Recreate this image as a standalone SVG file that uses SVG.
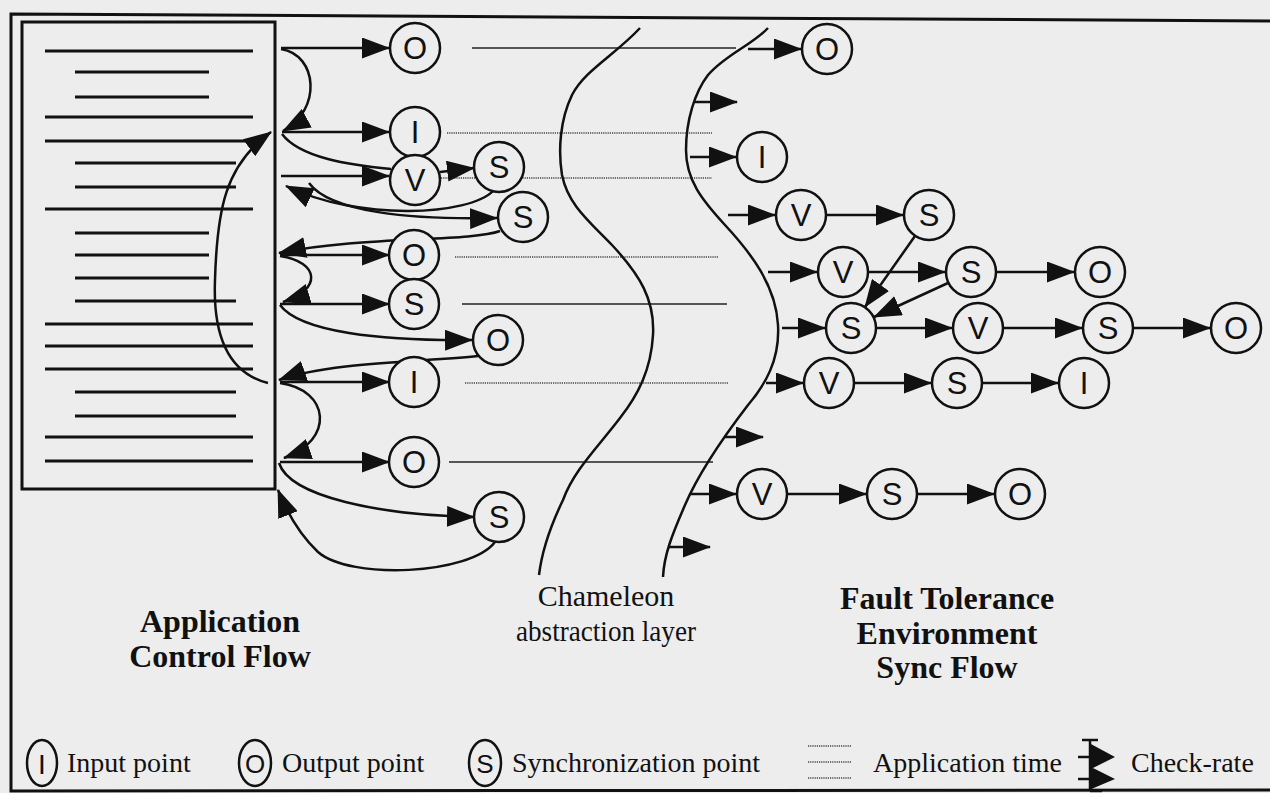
<svg xmlns="http://www.w3.org/2000/svg" width="1270" height="793" viewBox="0 0 1270 793">
<defs>
<style>
.bg{fill:#ededed}
.frame{fill:none;stroke:#111;stroke-width:3}
.tl{stroke:#111;stroke-width:3}
.node circle,.node ellipse{fill:#ededed;stroke:#111;stroke-width:2.5}
.node text{font-family:"Liberation Sans",Arial,sans-serif;font-size:31px;text-anchor:middle;fill:#111}
.c{fill:none;stroke:#111;stroke-width:2.5}
.a{marker-end:url(#ah)}
.dot{stroke:#444;stroke-width:1.6;stroke-dasharray:1.2 1}
.sol{stroke:#222;stroke-width:1.7}
.lbl{font-family:"Liberation Serif","Times New Roman",serif;font-size:28px;fill:#111}
.b{font-weight:bold;font-size:32px;text-anchor:middle}
.m{text-anchor:middle;font-size:30px}
</style>
<marker id="ah" markerWidth="28" markerHeight="21" refX="27" refY="10.5" orient="auto" markerUnits="userSpaceOnUse">
<path d="M0,0 L28,10.5 L0,21 z" fill="#111"/>
</marker>
</defs>
<rect class="bg" x="0" y="0" width="1270" height="793"/>
<path class="frame" d="M1270,21 L11,14 L11,791 L1270,790"/>

<g id="app-box">
<rect class="frame" x="22" y="22" width="253" height="467"/>
<path class="tl" d="M45,51H253 M75,72H209 M75,97H209 M45,117H253 M45,141H250 M75,163H236 M75,187H236 M45,209H253 M75,233H209 M75,255H209 M75,278H209 M75,301H236 M45,324H253 M45,346H253 M45,369H253 M75,392H236 M75,416H236 M45,437H253 M45,461H253"/>
</g>

<g id="time-lines">
<path class="sol" d="M472,48H736"/>
<path class="dot" d="M447,133H712"/>
<path class="dot" d="M441,178H712"/>
<path class="dot" d="M455,257H718"/>
<path class="sol" d="M462,304H727"/>
<path class="dot" d="M465,383H728"/>
<path class="sol" d="M449,462H713"/>
</g>

<g id="layers">
<path class="c" d="M640,28 C615,55 585,70 572,95 C560,120 558,150 562,175 C568,205 590,222 612,245 C640,275 655,300 653,335 C651,370 638,395 620,418 C598,447 574,470 563,500 C550,527 542,550 539,575"/>
<path class="c" d="M768,28 C752,45 725,55 708,75 C695,92 686,120 686,150 C686,180 702,200 725,225 C750,252 776,285 778,325 C780,360 765,385 748,405 C725,435 700,470 685,505 C672,535 664,555 663,577"/>
</g>

<g id="connectors">
<path class="c a" d="M268,383 C225,372 213,330 215,280 C217,210 225,165 271,132"/>
<path class="c a" d="M281,48 H389"/>
<path class="c a" d="M281,49 C318,55 322,110 283,131"/>
<path class="c a" d="M282,132 H389"/>
<path class="c" d="M282,134 C300,158 350,165 391,169"/>
<path class="c a" d="M281,176 H389"/>
<path class="c a" d="M440,172 L474,168"/>
<path class="c a" d="M493,191 C470,215 360,222 286,186"/>
<path class="c a" d="M309,183 C330,212 410,220 497,218"/>
<path class="c a" d="M500,231 C470,242 360,236 279,253"/>
<path class="c a" d="M280,255 H389"/>
<path class="c a" d="M280,256 C320,262 322,290 283,302"/>
<path class="c a" d="M280,304 H389"/>
<path class="c a" d="M280,305 C300,332 380,341 472,340"/>
<path class="c a" d="M478,356 C420,362 330,362 279,380"/>
<path class="c a" d="M280,382 H389"/>
<path class="c a" d="M280,383 C330,390 335,440 284,458"/>
<path class="c a" d="M280,462 H389"/>
<path class="c a" d="M279,463 C290,497 380,515 474,517"/>
<path class="c a" d="M495,542 C470,575 350,580 318,552 C300,535 288,515 278,490"/>

<path class="c a" d="M748,49 H801"/>
<path class="c a" d="M695,102 H737"/>
<path class="c a" d="M690,157 H736"/>
<path class="c a" d="M728,215 H775"/>
<path class="c a" d="M768,272 H817"/>
<path class="c a" d="M782,328 H825"/>
<path class="c a" d="M766,383 H803"/>
<path class="c a" d="M725,437 H763"/>
<path class="c a" d="M690,494 H736"/>
<path class="c a" d="M668,547 H710"/>

<path class="c a" d="M826,215 H903"/>
<path class="c a" d="M868,272 H945"/>
<path class="c a" d="M996,272 H1074"/>
<path class="c a" d="M876,328 H952"/>
<path class="c a" d="M1003,328 H1082"/>
<path class="c a" d="M1133,328 H1210"/>
<path class="c a" d="M854,383 H931"/>
<path class="c a" d="M982,383 H1058"/>
<path class="c a" d="M787,494 H866"/>
<path class="c a" d="M917,494 H994"/>
<path class="c a" d="M915,236 L865,307"/>
<path class="c a" d="M948,283 L874,317"/>
</g>

<g id="n-o1" class="node"><circle cx="415" cy="48" r="25"/><text x="415" y="59">O</text></g>
<g id="n-i1" class="node"><circle cx="415" cy="132" r="25"/><text x="415" y="143">I</text></g>
<g id="n-v1" class="node"><circle cx="415" cy="180" r="25"/><text x="415" y="191">V</text></g>
<g id="n-s1" class="node"><circle cx="499" cy="167" r="25"/><text x="499" y="178">S</text></g>
<g id="n-s2" class="node"><circle cx="523" cy="217" r="25"/><text x="523" y="228">S</text></g>
<g id="n-o2" class="node"><circle cx="414" cy="255" r="25"/><text x="414" y="266">O</text></g>
<g id="n-s3" class="node"><circle cx="414" cy="304" r="25"/><text x="414" y="315">S</text></g>
<g id="n-o3" class="node"><circle cx="498" cy="340" r="25"/><text x="498" y="351">O</text></g>
<g id="n-i2" class="node"><circle cx="414" cy="382" r="25"/><text x="414" y="393">I</text></g>
<g id="n-o4" class="node"><circle cx="414" cy="462" r="25"/><text x="414" y="473">O</text></g>
<g id="n-s5" class="node"><circle cx="499" cy="517" r="25"/><text x="499" y="528">S</text></g>

<g id="f-o1" class="node"><circle cx="827" cy="49" r="25"/><text x="827" y="60">O</text></g>
<g id="f-i1" class="node"><circle cx="762" cy="157" r="25"/><text x="762" y="168">I</text></g>
<g id="f-v1" class="node"><circle cx="801" cy="215" r="25"/><text x="801" y="226">V</text></g>
<g id="f-s1" class="node"><circle cx="929" cy="215" r="25"/><text x="929" y="226">S</text></g>
<g id="f-v2" class="node"><circle cx="843" cy="272" r="25"/><text x="843" y="283">V</text></g>
<g id="f-s2" class="node"><circle cx="971" cy="272" r="25"/><text x="971" y="283">S</text></g>
<g id="f-o2" class="node"><circle cx="1100" cy="272" r="25"/><text x="1100" y="283">O</text></g>
<g id="f-s3" class="node"><circle cx="851" cy="328" r="25"/><text x="851" y="339">S</text></g>
<g id="f-v3" class="node"><circle cx="978" cy="328" r="25"/><text x="978" y="339">V</text></g>
<g id="f-s4" class="node"><circle cx="1108" cy="328" r="25"/><text x="1108" y="339">S</text></g>
<g id="f-o3" class="node"><circle cx="1236" cy="328" r="25"/><text x="1236" y="339">O</text></g>
<g id="f-v4" class="node"><circle cx="829" cy="383" r="25"/><text x="829" y="394">V</text></g>
<g id="f-s5" class="node"><circle cx="957" cy="383" r="25"/><text x="957" y="394">S</text></g>
<g id="f-i2" class="node"><circle cx="1084" cy="383" r="25"/><text x="1084" y="394">I</text></g>
<g id="f-v5" class="node"><circle cx="762" cy="494" r="25"/><text x="762" y="505">V</text></g>
<g id="f-s6" class="node"><circle cx="892" cy="494" r="25"/><text x="892" y="505">S</text></g>
<g id="f-o4" class="node"><circle cx="1020" cy="494" r="25"/><text x="1020" y="505">O</text></g>

<g id="labels">
<text class="lbl b" x="220" y="632">Application</text>
<text class="lbl b" x="220" y="667">Control Flow</text>
<text class="lbl m" x="606" y="606">Chameleon</text>
<text class="lbl m" x="606" y="641" textLength="180" lengthAdjust="spacingAndGlyphs">abstraction layer</text>
<text class="lbl b" x="947" y="609">Fault Tolerance</text>
<text class="lbl b" x="947" y="644">Environment</text>
<text class="lbl b" x="947" y="678">Sync Flow</text>
</g>

<g id="legend">
<g id="lg-i" class="node"><ellipse cx="42" cy="763" rx="15" ry="23"/><text x="42" y="774" style="font-size:28px">I</text></g>
<text class="lbl" x="67" y="772">Input point</text>
<g id="lg-o" class="node"><ellipse cx="255" cy="763" rx="16" ry="23"/><text x="255" y="773" style="font-size:26px">O</text></g>
<text class="lbl" x="282" y="772">Output point</text>
<g id="lg-s" class="node"><ellipse cx="485" cy="763" rx="16" ry="23"/><text x="485" y="773" style="font-size:26px">S</text></g>
<text class="lbl" x="512" y="772">Synchronization point</text>
<path class="dot" d="M808,746H852 M808,762H852 M808,778H852"/>
<text class="lbl" x="873" y="772">Application time</text>
<path class="tl" d="M1090,740V791 M1078,757H1090 M1078,779H1090 M1082,740H1098 M1090,791H1102" style="stroke-width:2.5"/>
<path d="M1089,743 L1115,757 L1089,770 z M1089,766 L1115,779 L1089,790 z" fill="#111"/>
<text class="lbl" x="1131" y="772">Check-rate</text>
</g>
</svg>
